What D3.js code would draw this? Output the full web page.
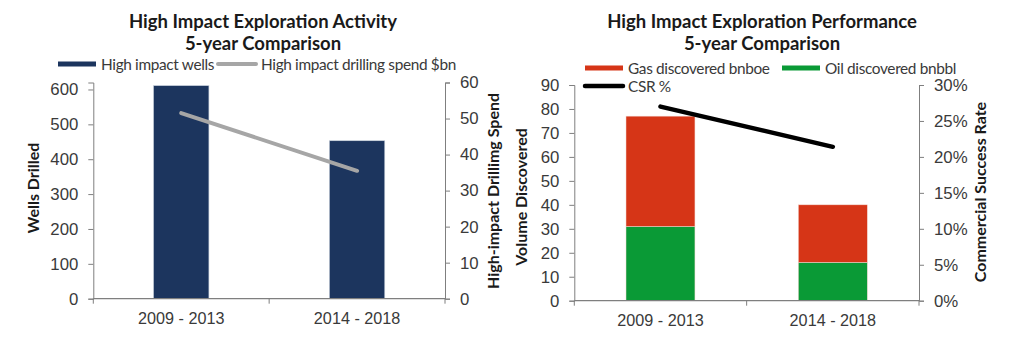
<!DOCTYPE html>
<html>
<head>
<meta charset="utf-8">
<script src="https://cdn.jsdelivr.net/npm/d3@7"></script>
<style>
  body { margin: 0; background: #fff; }
  svg { font-family: Lato, "Open Sans", sans-serif; }
</style>
</head>
<body>
<div id="chart"></div>
<script>
// data
const periods = ['2009 - 2013', '2014 - 2018'];
const wellsDrilled = [611, 453];
const drillingSpend = [51.5, 35.5];
const gasDiscovered = [46, 24];
const oilDiscovered = [31, 16];
const csr = [0.27, 0.214];

const wellsTicks = [0, 100, 200, 300, 400, 500, 600];
const spendTicks = [0, 10, 20, 30, 40, 50, 60];
const volumeTicks = [0, 10, 20, 30, 40, 50, 60, 70, 80, 90];
const csrTicks = [0, 0.05, 0.1, 0.15, 0.2, 0.25, 0.3];

const W = 1024, H = 351;
const textColor = '#3a3a3a';
const axisColor = '#7f7f7f';

const svg = d3.select('#chart').append('svg')
  .attr('width', W)
  .attr('height', H);

function styleAxis(g) {
  g.selectAll('text').attr('fill', textColor).style('font-size', '16.8px');
  g.selectAll('line').attr('stroke', axisColor);
  g.select('.domain').attr('stroke', axisColor);
}

// category axis: labels under bars, tick marks between categories
function drawCategoryAxis(x, y0) {
  const g = svg.append('g');
  const labels = g.append('g')
    .attr('transform', 'translate(0,' + y0 + ')')
    .call(d3.axisBottom(x).tickSize(0).tickPadding(14));
  labels.select('.domain').remove();
  labels.selectAll('text').attr('fill', textColor).style('font-size', '16.2px');
  const r = x.range();
  g.append('line')
    .attr('x1', r[0]).attr('x2', r[1])
    .attr('y1', y0).attr('y2', y0)
    .attr('stroke', axisColor).attr('stroke-width', 1.3);
  for (let i = 0; i <= periods.length; i++) {
    let px = r[0] + i * x.step();
    g.append('line')
      .attr('x1', px).attr('x2', px)
      .attr('y1', y0).attr('y2', y0 + 5)
      .attr('stroke', axisColor);
  }
}

function title(cx, lines) {
  lines.forEach(function (t, i) {
    svg.append('text')
      .attr('x', cx).attr('y', 27.5 + i * 22.5)
      .attr('text-anchor', 'middle')
      .style('font-size', '18.5px')
      .style('font-weight', 'bold')
      .attr('fill', '#1a1a1a')
      .text(t);
  });
}

function axisTitle(x, y, t) {
  svg.append('text')
    .attr('transform', 'translate(' + x + ',' + y + ') rotate(-90)')
    .attr('text-anchor', 'middle')
    .attr('dominant-baseline', 'middle')
    .style('font-size', '16px')
    .style('font-weight', 'bold')
    .attr('fill', '#1a1a1a')
    .text(t);
}

function legendItem(x, y, color, width, label) {
  svg.append('line')
    .attr('x1', x).attr('x2', x + 38)
    .attr('y1', y).attr('y2', y)
    .attr('stroke', color)
    .attr('stroke-width', width)
    .attr('stroke-linecap', width < 5 ? 'round' : 'butt');
  svg.append('text')
    .attr('x', x + 43).attr('y', y + 5.5)
    .style('font-size', '15.4px')
    .style('letter-spacing', '-0.35px')
    .attr('fill', textColor)
    .text(label);
}

// ---------- left chart ----------
(function () {
  const left = 93.3, right = 445, top = 82.5, bottom = 298.7;
  const x = d3.scaleBand().domain(periods).range([left, right])
    .paddingInner(0.685).paddingOuter(0.3425);
  const y = d3.scaleLinear().domain([0, 620]).range([bottom, top]);
  const y2 = d3.scaleLinear().domain([0, 60]).range([bottom, top]);

  title(263, ['High Impact Exploration Activity', '5-year Comparison']);
  legendItem(58, 64, '#1c355e', 5, 'High impact wells');
  legendItem(218, 64, '#a6a6a6', 4, 'High impact drilling spend $bn');

  svg.append('g').selectAll('rect')
    .data(wellsDrilled)
    .enter()
    .append('rect')
    .attr('x', (d, i) => x(periods[i]))
    .attr('y', d => y(d))
    .attr('width', x.bandwidth())
    .attr('height', d => y(0) - y(d))
    .attr('fill', '#1c355e')
    .attr('stroke', '#c9d1dc')
    .attr('stroke-width', 0.6);

  svg.append('g')
    .attr('transform', 'translate(' + left + ',0)')
    .call(d3.axisLeft(y).tickValues(wellsTicks).tickSize(5).tickPadding(10))
    .call(styleAxis);

  svg.append('g')
    .attr('transform', 'translate(' + right + ',0)')
    .call(d3.axisRight(y2).tickValues(spendTicks).tickSize(5).tickPadding(10))
    .call(styleAxis);

  drawCategoryAxis(x, bottom);

  const line = d3.line()
    .x((d, i) => x(periods[i]) + x.bandwidth() / 2)
    .y(d => y2(d));
  svg.append('path')
    .datum(drillingSpend)
    .attr('d', line)
    .attr('fill', 'none')
    .attr('stroke', '#a6a6a6')
    .attr('stroke-width', 4)
    .attr('stroke-linecap', 'round');

  axisTitle(35, 188, 'Wells Drilled');
  axisTitle(495, 191, 'High-impact Drillimg Spend');
})();

// ---------- right chart ----------
(function () {
  const left = 574.3, right = 919, top = 85, bottom = 300.7;
  const x = d3.scaleBand().domain(periods).range([left, right])
    .paddingInner(0.6).paddingOuter(0.3);
  const y = d3.scaleLinear().domain([0, 90]).range([bottom, top]);
  const y2 = d3.scaleLinear().domain([0, 0.3]).range([bottom, top]);

  title(762, ['High Impact Exploration Performance', '5-year Comparison']);
  legendItem(585, 68, '#d63517', 5, 'Gas discovered bnboe');
  legendItem(782, 68, '#0a9a36', 5, 'Oil discovered bnbbl');
  legendItem(585, 86, '#000000', 4.5, 'CSR %');

  const stacked = periods.map((p, i) => ({
    period: p, oil: oilDiscovered[i], gas: gasDiscovered[i]
  }));
  const series = d3.stack().keys(['oil', 'gas'])(stacked);
  const colors = { oil: '#0a9a36', gas: '#d63517' };

  svg.append('g').selectAll('g')
    .data(series)
    .enter()
    .append('g')
    .attr('fill', d => colors[d.key])
    .selectAll('rect')
    .data(d => d)
    .enter()
    .append('rect')
    .attr('x', d => x(d.data.period))
    .attr('y', d => y(d[1]))
    .attr('width', x.bandwidth())
    .attr('height', d => y(d[0]) - y(d[1]))
    .attr('stroke', '#f3d6cf')
    .attr('stroke-width', 0.5);

  svg.append('g')
    .attr('transform', 'translate(' + left + ',0)')
    .call(d3.axisLeft(y).tickValues(volumeTicks).tickSize(5).tickPadding(10))
    .call(styleAxis);

  svg.append('g')
    .attr('transform', 'translate(' + right + ',0)')
    .call(d3.axisRight(y2).tickValues(csrTicks).tickFormat(d3.format('.0%')).tickSize(5).tickPadding(10))
    .call(styleAxis);

  drawCategoryAxis(x, bottom);

  const line = d3.line()
    .x((d, i) => x(periods[i]) + x.bandwidth() / 2)
    .y(d => y2(d));
  svg.append('path')
    .datum(csr)
    .attr('d', line)
    .attr('fill', 'none')
    .attr('stroke', '#000')
    .attr('stroke-width', 4.5)
    .attr('stroke-linecap', 'round');

  axisTitle(523, 197, 'Volume Discovered');
  axisTitle(982, 192, 'Commercial Success Rate');
})();
</script>
</body>
</html>
